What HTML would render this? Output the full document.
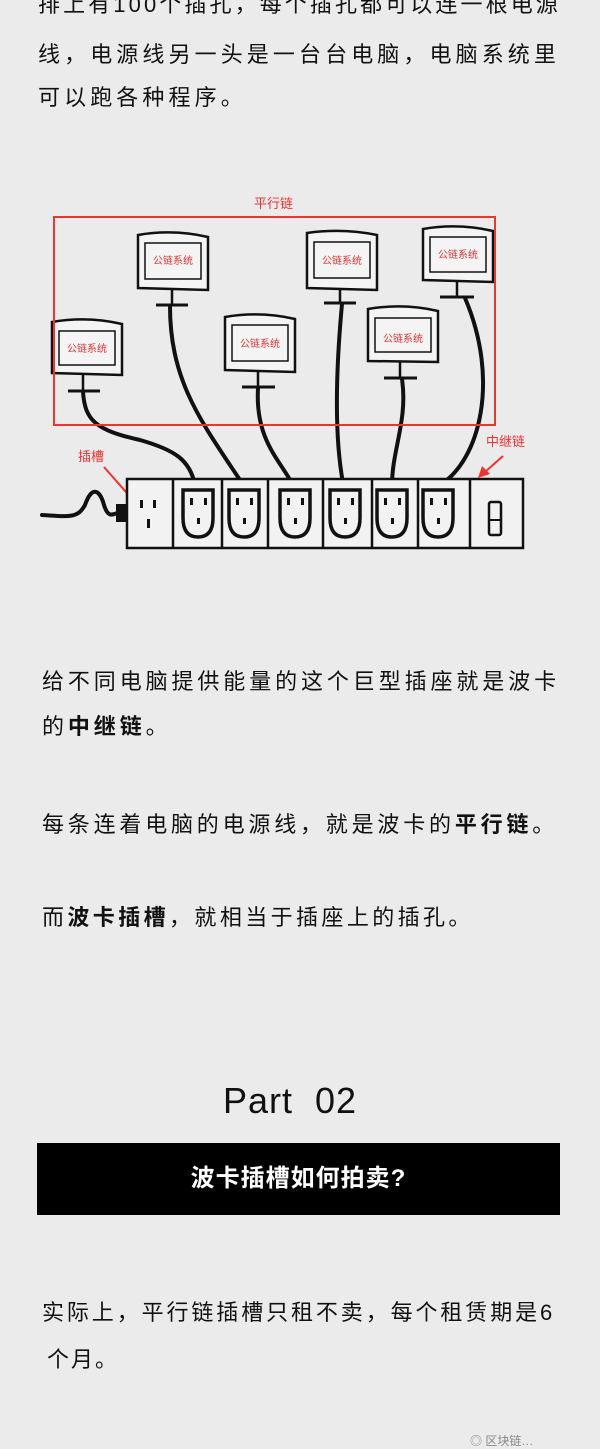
<!DOCTYPE html>
<html><head><meta charset="utf-8"><style>
html,body{margin:0;padding:0;}
body{width:600px;height:1440px;background:#ebebeb;position:relative;overflow:hidden;font-family:"Liberation Sans","Noto Sans CJK SC",sans-serif;color:#111;}
.t{position:absolute;left:38px;font-size:22px;white-space:nowrap;line-height:30px;}
b{font-weight:bold;}
</style></head><body>
<div class="t" style="top:-10px;letter-spacing:3.1px">排上有100个插孔，每个插孔都可以连一根电源</div>
<div class="t" style="top:40px;letter-spacing:4.1px">线，电源线另一头是一台台电脑，电脑系统里</div>
<div class="t" style="top:83px;letter-spacing:4.1px">可以跑各种程序。</div>

<svg style="position:absolute;left:0;top:190px" width="600" height="370" viewBox="0 190 600 370">
<g fill="none" stroke="#111" stroke-width="3" stroke-linecap="round">
<path d="M83 392 C85 420,95 430,140 440 C175 450,190 460,195 485" stroke-width="4"/>
<path d="M170 306 C170 380,200 420,240 480" stroke-width="4"/>
<path d="M258 388 C255 440,280 460,293 485" stroke-width="4"/>
<path d="M342 304 C335 380,335 440,343 483" stroke-width="4"/>
<path d="M402 379 C408 420,392 450,392 485" stroke-width="4"/>
<path d="M465 298 C500 380,480 460,440 485" stroke-width="4"/>
<path d="M42 515 C70 517,78 518,85 505 C92 485,100 490,104 505 C108 518,112 515,120 512" stroke-width="4"/>
</g>
<rect x="116" y="504" width="11" height="18" fill="#111"/>
<g fill="#f4f4f4" stroke="#111" stroke-width="2.5">
<path d="M52 322 Q87 316 122 324 L122 375 L52 373 Z"/><rect x="59" y="331" width="56" height="34" fill="none" stroke-width="1.5"/>
<path d="M138 235 Q173 229 208 237 L208 290 L138 288 Z"/><rect x="145" y="243" width="56" height="36" fill="none" stroke-width="1.5"/>
<path d="M225 317 Q260 311 295 319 L295 372 L225 370 Z"/><rect x="232" y="325" width="56" height="36" fill="none" stroke-width="1.5"/>
<path d="M307 233 Q342 228 377 235 L377 290 L307 288 Z"/><rect x="314" y="242" width="56" height="36" fill="none" stroke-width="1.5"/>
<path d="M368 309 Q403 303 438 311 L438 362 L368 361 Z"/><rect x="375" y="318" width="56" height="34" fill="none" stroke-width="1.5"/>
<path d="M423 229 Q458 223 493 231 L493 282 L423 280 Z"/><rect x="430" y="237" width="56" height="35" fill="none" stroke-width="1.5"/>
</g>
<g stroke="#111" stroke-width="2.5">
<line x1="83" y1="375" x2="83" y2="391"/><line x1="68" y1="391" x2="100" y2="391" stroke-width="3"/>
<line x1="172" y1="290" x2="172" y2="305"/><line x1="156" y1="305" x2="188" y2="305" stroke-width="3"/>
<line x1="258" y1="372" x2="258" y2="387"/><line x1="242" y1="387" x2="275" y2="387" stroke-width="3"/>
<line x1="340" y1="290" x2="340" y2="303"/><line x1="324" y1="303" x2="356" y2="303" stroke-width="3"/>
<line x1="400" y1="362" x2="400" y2="378"/><line x1="384" y1="378" x2="417" y2="378" stroke-width="3"/>
<line x1="457" y1="282" x2="457" y2="297"/><line x1="440" y1="297" x2="474" y2="297" stroke-width="3"/>
</g>
<g fill="#d33" font-size="10" text-anchor="middle" font-family="Liberation Sans,Noto Sans CJK SC,sans-serif">
<text x="87" y="352">公链系统</text><text x="173" y="264">公链系统</text><text x="260" y="347">公链系统</text>
<text x="342" y="264">公链系统</text><text x="403" y="342">公链系统</text><text x="458" y="258">公链系统</text>
</g>
<rect x="54" y="217" width="441" height="208" fill="none" stroke="#e33" stroke-width="2"/>
<g fill="#e33" font-size="13" font-family="Liberation Sans,Noto Sans CJK SC,sans-serif">
<text x="254" y="208">平行链</text><text x="78" y="461">插槽</text><text x="486" y="446">中继链</text>
</g>
<path d="M104 467 L133 500" stroke="#e33" stroke-width="2"/><path d="M126 502 L140 508 L134 494 Z" fill="#e33"/>
<path d="M503 456 L485 472" stroke="#e33" stroke-width="2"/><path d="M478 478 L482 466 L490 474 Z" fill="#e33"/>
<rect x="127" y="479" width="396" height="69" fill="#f2f2f2" stroke="#111" stroke-width="2.5"/>
<g stroke="#111" stroke-width="2.5">
<line x1="173" y1="479" x2="173" y2="548"/><line x1="222" y1="479" x2="222" y2="548"/><line x1="268" y1="479" x2="268" y2="548"/>
<line x1="323" y1="479" x2="323" y2="548"/><line x1="372" y1="479" x2="372" y2="548"/><line x1="418" y1="479" x2="418" y2="548"/><line x1="470" y1="479" x2="470" y2="548"/>
</g>
<g fill="#111"><rect x="140" y="500" width="3" height="8"/><rect x="153" y="500" width="3" height="8"/><rect x="147" y="519" width="3" height="9"/></g>
<g fill="none" stroke="#111" stroke-width="3.5">
<path d="M183 490 L213 490 L213 518 Q213 537 198 537 Q183 537 183 518 Z"/>
<path d="M229 490 L259 490 L259 518 Q259 537 244 537 Q229 537 229 518 Z"/>
<path d="M280 490 L310 490 L310 518 Q310 537 295 537 Q280 537 280 518 Z"/>
<path d="M330 490 L360 490 L360 518 Q360 537 345 537 Q330 537 330 518 Z"/>
<path d="M377 490 L407 490 L407 518 Q407 537 392 537 Q377 537 377 518 Z"/>
<path d="M423 490 L453 490 L453 518 Q453 537 438 537 Q423 537 423 518 Z"/>
</g>
<g fill="#111">
<rect x="190" y="498" width="3" height="7"/><rect x="204" y="498" width="3" height="7"/><rect x="197" y="518" width="3" height="6"/>
<rect x="236" y="498" width="3" height="7"/><rect x="250" y="498" width="3" height="7"/><rect x="243" y="518" width="3" height="6"/>
<rect x="287" y="498" width="3" height="7"/><rect x="301" y="498" width="3" height="7"/><rect x="294" y="518" width="3" height="6"/>
<rect x="337" y="498" width="3" height="7"/><rect x="351" y="498" width="3" height="7"/><rect x="344" y="518" width="3" height="6"/>
<rect x="384" y="498" width="3" height="7"/><rect x="398" y="498" width="3" height="7"/><rect x="391" y="518" width="3" height="6"/>
<rect x="430" y="498" width="3" height="7"/><rect x="444" y="498" width="3" height="7"/><rect x="437" y="518" width="3" height="6"/>
</g>
<rect x="489" y="502" width="12" height="33" rx="2" fill="none" stroke="#111" stroke-width="2.5"/>
<line x1="489" y1="520" x2="501" y2="520" stroke="#111" stroke-width="2"/>
</svg>

<div class="t" style="top:667px;left:42px;letter-spacing:3.9px">给不同电脑提供能量的这个巨型插座就是波卡</div>
<div class="t" style="top:712px;left:42px;letter-spacing:3.9px">的<b>中继链</b>。</div>
<div class="t" style="top:810px;left:42px;letter-spacing:3.8px">每条连着电脑的电源线，就是波卡的<b>平行链</b>。</div>
<div class="t" style="top:903px;left:42px;letter-spacing:3.4px">而<b>波卡插槽</b>，就相当于插座上的插孔。</div>

<div style="position:absolute;top:1080px;left:0;width:580px;text-align:center;font-size:36px;letter-spacing:1px;">Part&nbsp; 02</div>
<div style="position:absolute;top:1143px;left:37px;width:523px;height:72px;background:#000;color:#fff;font-size:24px;font-weight:bold;text-align:center;line-height:72px;letter-spacing:1px">波卡插槽如何拍卖?</div>

<div class="t" style="top:1298px;left:42px;letter-spacing:2.9px">实际上，平行链插槽只租不卖，每个租赁期是6</div>
<div class="t" style="top:1345px;left:47px;letter-spacing:2px">个月。</div>
<div style="position:absolute;top:1432px;left:470px;font-size:12px;color:#888">◎ 区块链…</div>
</body></html>
